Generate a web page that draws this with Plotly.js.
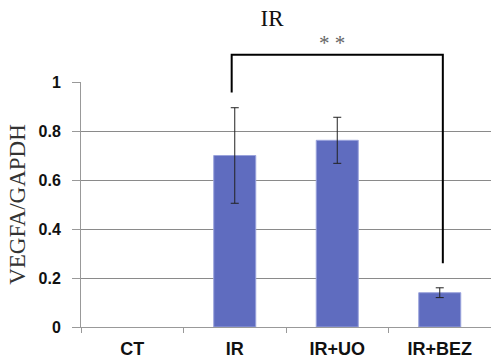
<!DOCTYPE html>
<html>
<head>
<meta charset="utf-8">
<script src="https://cdn.plot.ly/plotly-3.0.1.min.js"></script>
<style>
  html, body { margin: 0; padding: 0; background: #fff; }
  #chart { width: 491px; height: 359px; }
</style>
</head>
<body>
<div id="chart"></div>
<script>
const categories = ['CT', 'IR', 'IR+UO', 'IR+BEZ'];
const values = [0, 0.70, 0.762, 0.14];
const errors = [NaN, 0.195, 0.094, 0.02];
const yTickVals = [0, 0.2, 0.4, 0.6, 0.8, 1];
const yTickText = ['0', '0.2', '0.4', '0.6', '0.8', '1'];
const chartTitle = 'IR';
const yTitle = 'VEGFA/GAPDH';
const sigLabel = '* *';

const trace = {
  type: 'bar',
  x: categories,
  y: values,
  marker: {
    color: '#5F6CBF',
    line: { color: '#9AA3DC', width: values.map(v => (v > 0 ? 1 : 0)) }
  },
  error_y: { type: 'data', array: errors, visible: true, color: '#222', thickness: 1, width: 4 },
  hoverinfo: 'none'
};

const layout = {
  width: 491, height: 359,
  margin: { l: 81, r: 0, t: 82, b: 32, pad: 0 },
  paper_bgcolor: '#fff', plot_bgcolor: '#fff',
  showlegend: false,
  bargap: 0.59,
  title: {
    text: chartTitle,
    font: { family: 'Liberation Serif, Times New Roman, serif', size: 23, color: '#111' },
    x: 272 / 491, xanchor: 'center', xref: 'container',
    y: 1 - 18 / 359, yanchor: 'middle', yref: 'container'
  },
  xaxis: {
    type: 'category',
    showline: true, linecolor: '#999', linewidth: 1,
    ticks: 'outside', tickson: 'boundaries', ticklen: 5, tickcolor: '#999',
    showgrid: false,
    tickfont: { family: 'Liberation Sans, Arial, sans-serif', size: 18, color: '#111', weight: 'bold' },
    ticklabelstandoff: 5
  },
  yaxis: {
    range: [0, 1],
    tickvals: yTickVals, ticktext: yTickText,
    showline: true, linecolor: '#999', linewidth: 1,
    ticks: 'outside', ticklen: 8, tickcolor: '#999',
    showgrid: true, gridcolor: '#8a8a8a', gridwidth: 1,
    zeroline: false,
    tickfont: { family: 'Liberation Sans, Arial, sans-serif', size: 16, color: '#111', weight: 'bold' },
    ticklabelstandoff: 8,
    title: {
      text: yTitle,
      font: { family: 'Liberation Serif, Times New Roman, serif', size: 23, color: '#333' },
      standoff: 6
    }
  },
  shapes: [
    { type: 'path', xref: 'x', yref: 'paper',
      path: 'M 0.97,0.957 L 0.97,1.111 L 3.03,1.111 L 3.03,0.26',
      line: { color: '#000', width: 2 } }
  ],
  annotations: [
    { text: sigLabel, xref: 'x', yref: 'paper', x: 1.95, y: 1.16, xanchor: 'center', yanchor: 'middle',
      showarrow: false, font: { family: 'Liberation Serif, Times New Roman, serif', size: 21, color: '#666' } }
  ]
};

Plotly.newPlot('chart', [trace], layout, { displayModeBar: false, staticPlot: true });
</script>
</body>
</html>
